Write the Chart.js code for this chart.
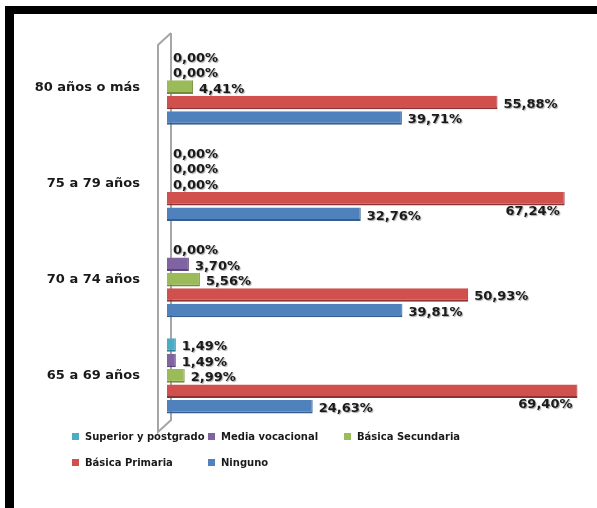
<!DOCTYPE html>
<html>
<head>
<meta charset="utf-8">
<script src="https://cdn.jsdelivr.net/npm/chart.js@4"></script>
<style>
  body { margin: 0; background: #fff; }
  #wrap { position: relative; width: 597px; height: 508px; overflow: hidden; }
  #myChart { position: absolute; left: 0; top: 0; }
  .bar-top { position: absolute; left: 5px; top: 6px; width: 592px; height: 8px; background: #000; }
  .bar-left { position: absolute; left: 5px; top: 6px; width: 9px; height: 502px; background: #000; }
  #legend { position: absolute; left: 72px; top: 430px; width: 420px;
    font: bold 10px "DejaVu Sans", sans-serif; color: #1a1a1a; }
  .item { position: absolute; height: 14px; line-height: 14px; white-space: nowrap; }
  .item span.box { position: absolute; left: 0; top: 3px; width: 7px; height: 7px; }
  .item span.txt { position: absolute; left: 13px; top: 0; }
</style>
</head>
<body>
<div id="wrap">
  <canvas id="myChart" width="597" height="508"></canvas>
  <div class="bar-top"></div>
  <div class="bar-left"></div>
  <div id="legend"></div>
</div>
<script>
const categories = ['80 años o más', '75 a 79 años', '70 a 74 años', '65 a 69 años'];
const seriesNames = ['Superior y postgrado', 'Media vocacional', 'Básica Secundaria', 'Básica Primaria', 'Ninguno'];
const seriesColors = ['#4bacc6', '#8064a2', '#9bbb59', '#d0504d', '#4f81bd'];
const seriesEdges = ['#2e7f95', '#5a4578', '#718c3b', '#8c3331', '#355d8e'];
const superior = [0.00, 0.00, 0.00, 1.49];
const media = [0.00, 0.00, 3.70, 1.49];
const secundaria = [4.41, 0.00, 5.56, 2.99];
const primaria = [55.88, 67.24, 50.93, 69.40];
const ninguno = [39.71, 32.76, 39.81, 24.63];
const allValues = [superior, media, secundaria, primaria, ninguno];

const ctx = document.getElementById('myChart').getContext('2d');

const datasets = seriesNames.map((name, i) => ({
  label: name,
  data: allValues[i],
  backgroundColor: seriesColors[i],
  borderColor: seriesEdges[i],
  borderWidth: { bottom: 2, right: 1 },
  borderSkipped: 'left',
  categoryPercentage: 0.8,
  barPercentage: 0.88,
}));

// grey 3D wall at the left of the plot
const wallPlugin = {
  id: 'wall',
  beforeDatasetsDraw(chart) {
    const a = chart.chartArea;
    const c = chart.ctx;
    const back = a.left + 4, front = a.left - 9;
    c.save();
    c.strokeStyle = '#a6a6a6';
    c.lineWidth = 2;
    c.beginPath();
    c.moveTo(back, a.top - 6);
    c.lineTo(back, a.bottom - 4);
    c.lineTo(front, a.bottom + 8);
    c.lineTo(front, a.top + 6);
    c.lineTo(back, a.top - 6);
    c.stroke();
    c.restore();
  }
};

// value labels at the end of each bar; labels that would leave the
// picture go under the bar end instead
const labelPlugin = {
  id: 'valueLabels',
  afterDatasetsDraw(chart) {
    const c = chart.ctx;
    const limit = chart.width - 6;
    c.save();
    c.font = 'bold 13px "DejaVu Sans", sans-serif';
    c.textBaseline = 'middle';
    c.shadowColor = 'rgba(0,0,0,0.35)';
    c.shadowOffsetX = 1;
    c.shadowOffsetY = 1;
    c.shadowBlur = 1;
    c.fillStyle = '#1a1a1a';
    chart.data.datasets.forEach((ds, di) => {
      const meta = chart.getDatasetMeta(di);
      meta.data.forEach((bar, j) => {
        const txt = ds.data[j].toFixed(2).replace('.', ',') + '%';
        const w = c.measureText(txt).width;
        if (bar.x + 8 + w > limit) {
          c.textAlign = 'right';
          c.fillText(txt, bar.x - 5, bar.y + 13);
        } else {
          c.textAlign = 'left';
          c.fillText(txt, bar.x + 6, bar.y + 2);
        }
      });
    });
    c.restore();
  }
};

const config = {
  type: 'bar',
  data: { labels: categories, datasets: datasets },
  options: {
    indexAxis: 'y',
    responsive: false,
    animation: false,
    layout: { padding: { left: 0, right: 16, top: 39, bottom: 84 } },
    scales: {
      x: { display: false, min: 0, max: 70 },
      y: {
        afterFit(s) { s.width = 167; },
        border: { display: false },
        grid: { display: false, drawTicks: false },
        ticks: {
          padding: 27,
          color: '#1a1a1a',
          font: { family: 'DejaVu Sans', weight: 'bold', size: 13 }
        }
      }
    },
    plugins: {
      legend: { display: false },
      tooltip: { enabled: false }
    }
  },
  plugins: [wallPlugin, labelPlugin]
};

const myChart = new Chart(ctx, config);

// legend laid out on a 3-column grid like the original
const legend = document.getElementById('legend');
seriesNames.forEach((name, i) => {
  const d = document.createElement('div');
  d.className = 'item';
  d.style.left = (i % 3) * 136 + 'px';
  d.style.top = Math.floor(i / 3) * 26 + 'px';
  d.innerHTML = '<span class="box" style="background:' + seriesColors[i] + '"></span><span class="txt">' + name + '</span>';
  legend.appendChild(d);
});
</script>
</body>
</html>
